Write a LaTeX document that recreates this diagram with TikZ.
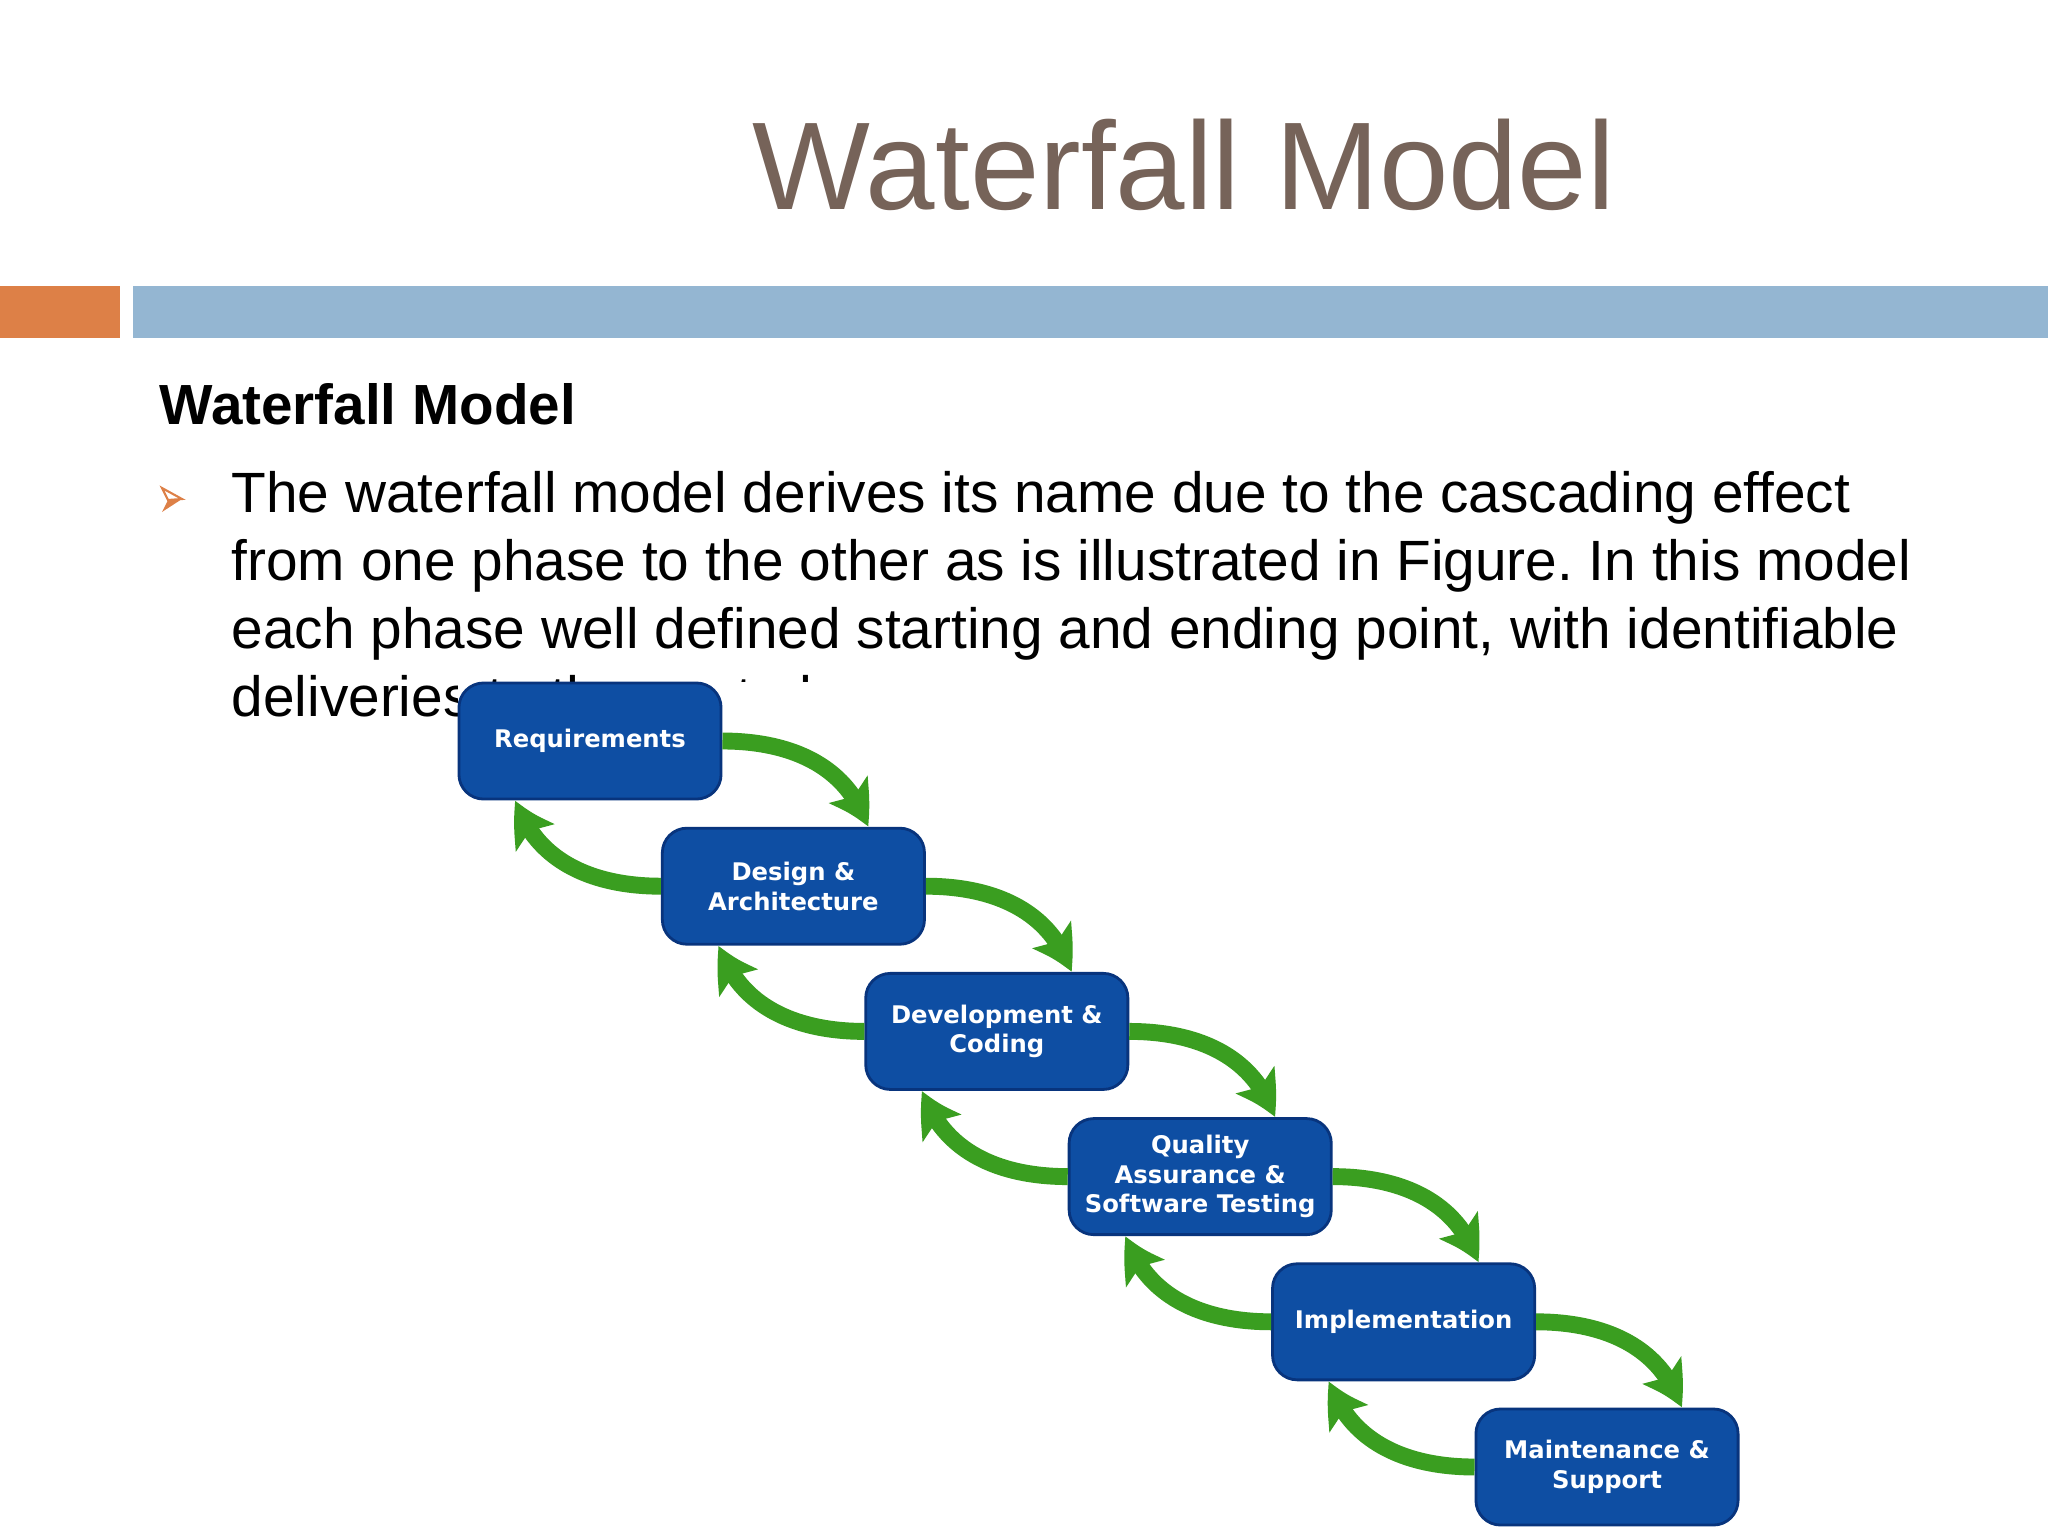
\documentclass[tikz,border=0pt]{standalone}
\usepackage{fontspec}
\setmainfont{Liberation Sans}
\newfontfamily\phasefont{DejaVu Sans}
\usetikzlibrary{arrows.meta,bending,calc}
\frenchspacing

\definecolor{titlebrown}{RGB}{118,99,89}
\definecolor{barorange}{RGB}{221,128,71}
\definecolor{barblue}{RGB}{148,182,210}
\definecolor{phaseblue}{RGB}{14,78,163}
\definecolor{phaseedge}{RGB}{8,52,125}
\definecolor{flowgreen}{RGB}{58,158,32}

\begin{document}
\begin{tikzpicture}[x=0.01cm,y=0.01cm,
  phase/.style={rectangle,rounded corners=7pt,draw=phaseedge,line width=0.8pt,fill=phaseblue,text=white,align=center,minimum width=2.62cm,minimum height=1.16cm,inner sep=2pt,font=\phasefont\bfseries\fontsize{6.9}{8.4}\selectfont},
  flow/.style={flowgreen,line width=4.8pt,-{Stealth[width=13pt,length=12pt,inset=2.5pt,bend]}},
  textline/.style={anchor=base west,inner sep=0pt,font=\fontsize{16.15}{19}\selectfont}]
 \useasboundingbox (0,0) rectangle (2048,-1536);
 \node[anchor=base west,inner sep=0pt,text=titlebrown,font=\fontsize{35.5}{42}\selectfont] (title) at (752,-209) {Waterfall Model};
 \fill[barorange] (0,-286) rectangle (120,-338);
 \fill[barblue] (133,-286) rectangle (2048,-338);
 \node[textline,font=\bfseries\fontsize{16.1}{19}\selectfont] (head) at (159,-424) {Waterfall Model};
 \filldraw[fill=white,draw=barorange,line width=0.6pt] (162,-488) -- (182,-499) -- (168,-500) -- cycle;
 \fill[barorange] (168,-500) -- (182,-499) -- (162,-512) -- cycle;
 \foreach \t [count=\i] in {{The waterfall model derives its name due to the cascading effect},
   {from one phase to the other as is illustrated in Figure. In this model},
   {each phase well defined starting and ending point, with identifiable},
   {deliveries to the next phase.}} {
   \node[textline] (l\i) at (231,-512-68*\i+68) {\t};
 }
 \fill[white] (458,-682) rectangle (1750,-1536);
 \foreach \t [count=\i] in {Requirements,{Design \&\\Architecture},{Development \&\\Coding},{Quality\\Assurance \&\\Software Testing},Implementation,{Maintenance \&\\Support}} {
   \node[phase] (b\i) at (590+203.4*\i-203.4,-741-145.2*\i+145.2) {\t};
 }
 \foreach \i in {1,...,5} {
   \pgfmathtruncatemacro{\j}{\i+1}
   \draw[flow] (b\i.east) to[out=0,in=108] ($(b\j.north)!0.56!(b\j.north east)$);
   \draw[flow] (b\j.west) to[out=180,in=-72] ($(b\i.south)!0.56!(b\i.south west)$);
 }
\end{tikzpicture}
\end{document}
